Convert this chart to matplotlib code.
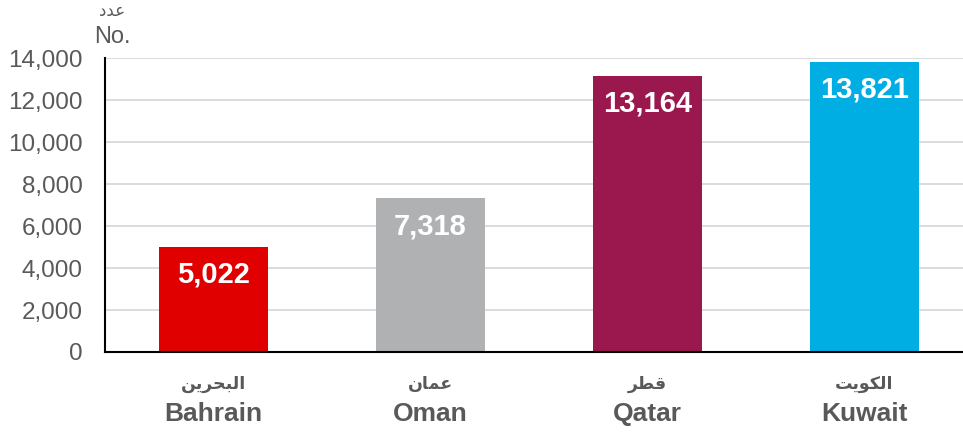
import matplotlib
matplotlib.use("Agg")
import matplotlib.pyplot as plt
from matplotlib.ticker import FuncFormatter

# Data
countries_en = ["Bahrain", "Oman", "Qatar", "Kuwait"]
# Arabic names in visual order with presentation forms (matplotlib does no shaping)
countries_ar = [
    "\uFEE6\uFEF3\uFEAE\uFEA4\uFE92\uFEDF\uFE8D",  # البحرين
    "\uFEE5\uFE8E\uFEE4\uFECB",                    # عمان
    "\uFEAE\uFEC4\uFED7",                          # قطر
    "\uFE96\uFEF3\uFEEE\uFEDC\uFEDF\uFE8D",        # الكويت
]
values = [5022, 7318, 13164, 13821]
colors = ["#E00000", "#B0B1B3", "#9B184E", "#00AEE4"]
yticks = [0, 2000, 4000, 6000, 8000, 10000, 12000, 14000]
unit_ar = "\uFEA9\uFEAA\uFECB"  # عدد
unit_en = "No."

fam = ["Liberation Sans", "DejaVu Sans"]
plt.rcParams["font.family"] = fam

fig = plt.figure(figsize=(9.63, 4.33), dpi=100)
ax = fig.add_axes([105 / 963, (433 - 352) / 433, (973 - 105) / 963, (352 - 58) / 433])

x = list(range(len(values)))
bars = ax.bar(x, values, width=0.5, color=colors, zorder=3)

ax.set_xlim(-0.5, 3.5)
ax.set_ylim(0, 14000)
ax.set_yticks(yticks)
ax.yaxis.set_major_formatter(FuncFormatter(lambda v, p: f"{int(v):,}"))
ax.tick_params(axis="y", length=0, labelsize=17.5, labelcolor="#595959", pad=16)
ax.tick_params(axis="x", length=0, labelsize=1, labelcolor="white")
ax.set_xticks(x)
ax.set_xticklabels([""] * 4)
ax.grid(axis="y", color="#D9D9D9", linewidth=1.3, zorder=0)
for s in ["top", "right"]:
    ax.spines[s].set_visible(False)
ax.spines["left"].set_color("black")
ax.spines["left"].set_linewidth(1.5)
ax.spines["bottom"].set_color("black")
ax.spines["bottom"].set_linewidth(1.5)
ax.spines["left"].set_zorder(4)
ax.spines["bottom"].set_zorder(4)

for xi, v in zip(x, values):
    ax.annotate(f"{v:,}", xy=(xi, v), xytext=(0, -28), textcoords="offset pixels",
                ha="center", va="center", color="white", fontsize=21,
                fontweight="bold", zorder=5)

for xi, ar, en in zip(x, countries_ar, countries_en):
    ax.annotate(ar, xy=(xi, 0), xycoords=("data", "axes fraction"),
                xytext=(0, -32), textcoords="offset pixels", ha="center", va="center",
                fontsize=12.5, fontweight="bold", color="#595959")
    ax.annotate(en, xy=(xi, 0), xycoords=("data", "axes fraction"),
                xytext=(0, -62), textcoords="offset pixels", ha="center", va="center",
                fontsize=19, fontweight="bold", color="#595959")

fig.text(112 / 963, 1 - 12 / 433, unit_ar, ha="center", va="center",
         fontsize=12, color="#595959")
fig.text(112 / 963, 1 - 37 / 433, unit_en, ha="center", va="center",
         fontsize=17, color="#595959")

fig.savefig("out.png", dpi=100)
